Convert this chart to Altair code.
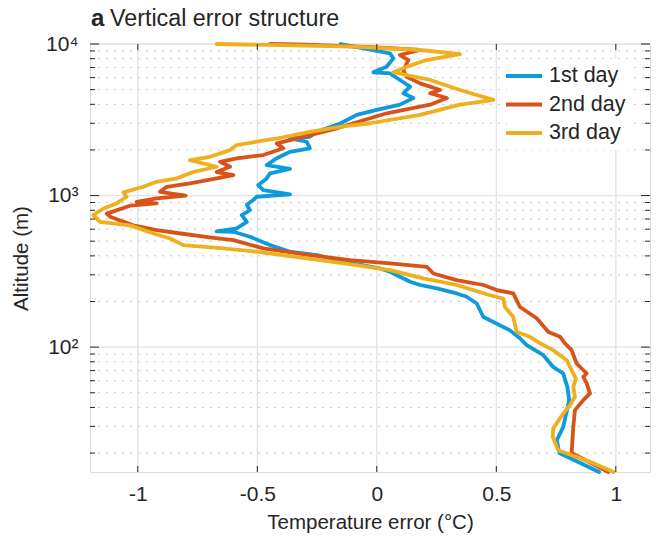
import altair as alt
import pandas as pd

# ---------------- data ----------------
series_names = ["1st day", "2nd day", "3rd day"]
series_colors = ["#0E9BDB", "#D95319", "#EDB120"]

day1_alt = [15, 20, 24.3, 29.8, 44.7, 54.7, 67, 74, 88.5, 103, 114, 129, 158, 194, 215, 226,
            244, 257, 270, 314, 331, 366, 405, 426, 471, 535, 577, 580, 607, 671, 743, 802,
            869, 934, 982, 1019, 1087, 1172, 1298, 1402, 1500, 1588, 1762, 1945, 2050, 2265,
            2380, 2443, 2636, 3000, 3410, 3680, 3980, 4400, 4730, 5230, 5790, 6400, 6510,
            7080, 8040, 8680, 9370, 10000]
day1_err = [0.930, 0.764, 0.753, 0.780, 0.805, 0.797, 0.780, 0.738, 0.697, 0.627, 0.600, 0.557,
            0.446, 0.418, 0.376, 0.334, 0.251, 0.181, 0.139, 0.055, 0.013, -0.140, -0.251,
            -0.363, -0.447, -0.531, -0.600, -0.670, -0.586, -0.544, -0.565, -0.531, -0.544,
            -0.517, -0.503, -0.363, -0.475, -0.496, -0.461, -0.447, -0.363, -0.461, -0.419,
            -0.363, -0.280, -0.293, -0.363, -0.280, -0.251, -0.151, -0.084, 0.000, 0.097,
            0.153, 0.111, 0.139, 0.097, 0.055, -0.015, 0.041, 0.069, 0.055, -0.056, -0.151]

day2_alt = [15, 20, 29.8, 38.4, 44.7, 49.5, 57.6, 63.7, 67, 78, 95.5, 106, 117, 126, 155, 184,
            226, 238, 257, 277, 306, 339, 357, 375, 405, 448, 508, 530, 562, 592, 636, 725,
            760, 857, 887, 910, 957, 1000, 1059, 1143, 1205, 1298, 1365, 1430, 1549, 1671,
            1762, 1850, 2050, 2210, 2323, 2575, 2800, 3000, 3490, 3980, 4400, 4730, 4970,
            5500, 6080, 6680, 7840, 8460, 9130, 9500, 9900, 10000]
day2_err = [0.969, 0.815, 0.822, 0.829, 0.864, 0.892, 0.878, 0.864, 0.878, 0.836, 0.815, 0.787,
            0.767, 0.718, 0.669, 0.599, 0.571, 0.502, 0.446, 0.334, 0.236, 0.209, 0.055,
            -0.112, -0.280, -0.475, -0.600, -0.700, -0.820, -0.921, -1.019, -1.116, -1.130,
            -1.033, -0.921, -1.005, -0.921, -0.800, -0.907, -0.879, -0.782, -0.670, -0.600,
            -0.670, -0.614, -0.656, -0.586, -0.475, -0.391, -0.419, -0.363, -0.251, -0.160,
            -0.098, 0.041, 0.223, 0.293, 0.223, 0.265, 0.181, 0.125, 0.111, 0.132, 0.097,
            0.181, 0.000, -0.293, -0.447]

day3_alt = [15, 17.5, 20.9, 25.6, 29, 36.5, 41.4, 47, 54.7, 62, 74, 82, 95.5, 106, 117, 126,
            158, 184, 209, 220, 257, 284, 322, 348, 385, 426, 448, 471, 521, 560, 636, 671,
            743, 822, 887, 982, 1050, 1143, 1233, 1298, 1430, 1549, 1715, 1803, 1995, 2154,
            2265, 2380, 2636, 2850, 3000, 3410, 3980, 4280, 4970, 5790, 6510, 7080, 7840,
            8560, 9130, 9610, 10000]
day3_err = [0.990, 0.892, 0.759, 0.736, 0.738, 0.780, 0.808, 0.829, 0.822, 0.833, 0.808, 0.795,
            0.738, 0.683, 0.641, 0.585, 0.571, 0.536, 0.529, 0.474, 0.334, 0.195, 0.055,
            -0.084, -0.293, -0.503, -0.642, -0.810, -0.865, -0.930, -1.033, -1.158, -1.186,
            -1.144, -1.089, -1.047, -1.060, -0.977, -0.921, -0.837, -0.768, -0.670, -0.782,
            -0.698, -0.614, -0.586, -0.503, -0.419, -0.280, -0.150, -0.028, 0.181, 0.348,
            0.488, 0.348, 0.223, 0.069, 0.125, 0.208, 0.348, 0.181, -0.098, -0.670]

x_tick_values = [-1, -0.5, 0, 0.5, 1]
y_major_values = [100, 1000, 10000]
y_minor_values = [20, 30, 40, 50, 60, 70, 80, 90,
                  200, 300, 400, 500, 600, 700, 800, 900,
                  2000, 3000, 4000, 5000, 6000, 7000, 8000, 9000]

# ---------------- tables ----------------
rows = []
for name, alts, errs in zip(series_names, [day1_alt, day2_alt, day3_alt],
                            [day1_err, day2_err, day3_err]):
    assert len(alts) == len(errs), name
    for i, (a, e) in enumerate(zip(alts, errs)):
        rows.append({"series": name, "alt": a, "err": e, "idx": i})
df = pd.DataFrame(rows)

W, H = 560, 428
FONT = "Liberation Sans"
TXT = "#262626"

xscale = alt.Scale(domain=[-1.2, 1.143], nice=False, zero=False)
yscale = alt.Scale(type="log", domain=[15, 10000], nice=False)

x_axis = alt.Axis(values=x_tick_values, grid=False, ticks=False, domain=False,
                  labelExpr="'' + datum.value", labelFontSize=21, labelColor=TXT,
                  labelFont=FONT, labelPadding=11, title="Temperature error (°C)",
                  titleFont=FONT, titleFontSize=20.5, titleFontWeight="normal",
                  titleColor=TXT, titlePadding=8)
y_axis = alt.Axis(values=y_major_values, grid=False, ticks=False, domain=False,
                  labelExpr="datum.value == 10000 ? '10⁴' : datum.value == 1000 ? '10³' : '10²'",
                  labelFontSize=21, labelColor=TXT, labelFont=FONT, labelPadding=12,
                  title="Altitude (m)", titleFont=FONT, titleFontSize=20.5,
                  titleFontWeight="normal", titleColor=TXT, titlePadding=14)

xmaj = pd.DataFrame({"v": x_tick_values})
ymaj = pd.DataFrame({"v": y_major_values})
ymin = pd.DataFrame({"v": y_minor_values})

def YV(field="v"):
    return alt.Y(f"{field}:Q", scale=yscale, axis=y_axis)

def XV(field="v"):
    return alt.X(f"{field}:Q", scale=xscale, axis=x_axis)

grid_minor = alt.Chart(ymin).mark_rule(color="#c8c8c8", strokeWidth=1, strokeDash=[2, 6]).encode(
    y=YV(), x=alt.value(0), x2=alt.value(W))
grid_ymaj = alt.Chart(ymaj).mark_rule(color="#e3e3e3", strokeWidth=1.3).encode(
    y=YV(), x=alt.value(0), x2=alt.value(W))
grid_xmaj = alt.Chart(xmaj).mark_rule(color="#e3e3e3", strokeWidth=1.3).encode(
    x=XV(), y=alt.value(0), y2=alt.value(H))

lines = alt.Chart(df).mark_line(strokeWidth=3.8, strokeJoin="round", strokeCap="round").encode(
    x=XV("err"),
    y=YV("alt"),
    color=alt.Color("series:N", scale=alt.Scale(domain=series_names, range=series_colors),
                    legend=alt.Legend(title=None, orient="none", legendX=417, legendY=15,
                                      symbolType="M-2,0H2", symbolSize=324,
                                      symbolStrokeWidth=4, labelFontSize=21.5, labelFont=FONT,
                                      labelColor=TXT, labelOffset=14, rowPadding=6.5,
                                      fillColor="white", padding=6)),
    order=alt.Order("idx:Q"),
)

def ticks(data, enc):
    return alt.Chart(data).mark_rule(color="#262626", strokeWidth=1).encode(**enc)

tick_layers = [
    ticks(ymaj, dict(y=YV(), x=alt.value(0), x2=alt.value(9))),
    ticks(ymin, dict(y=YV(), x=alt.value(0), x2=alt.value(5))),
    ticks(ymaj, dict(y=YV(), x=alt.value(W - 9), x2=alt.value(W))),
    ticks(ymin, dict(y=YV(), x=alt.value(W - 5), x2=alt.value(W))),
    ticks(xmaj, dict(x=XV(), y=alt.value(H - 6), y2=alt.value(H))),
    ticks(xmaj, dict(x=XV(), y=alt.value(0), y2=alt.value(6))),
]

title_a = alt.Chart(pd.DataFrame({"t": ["a"]})).mark_text(
    font=FONT, fontSize=24, fontWeight="bold", color=TXT, align="left", baseline="alphabetic"
).encode(text="t:N", x=alt.value(1), y=alt.value(-18))
title_b = alt.Chart(pd.DataFrame({"t": ["Vertical error structure"]})).mark_text(
    font=FONT, fontSize=23.3, color=TXT, align="left", baseline="alphabetic"
).encode(text="t:N", x=alt.value(20), y=alt.value(-18))

chart = alt.layer(grid_minor, grid_ymaj, grid_xmaj, lines, *tick_layers, title_a, title_b).properties(
    width=W, height=H,
    autosize=alt.AutoSizeParams(type="none"),
    padding={"left": 90, "top": 44, "right": 7, "bottom": 66},
).configure_view(stroke="#262626", strokeWidth=1.2).configure(background="white")

chart.save("out.html", embed_options={"renderer": "svg", "actions": False})
